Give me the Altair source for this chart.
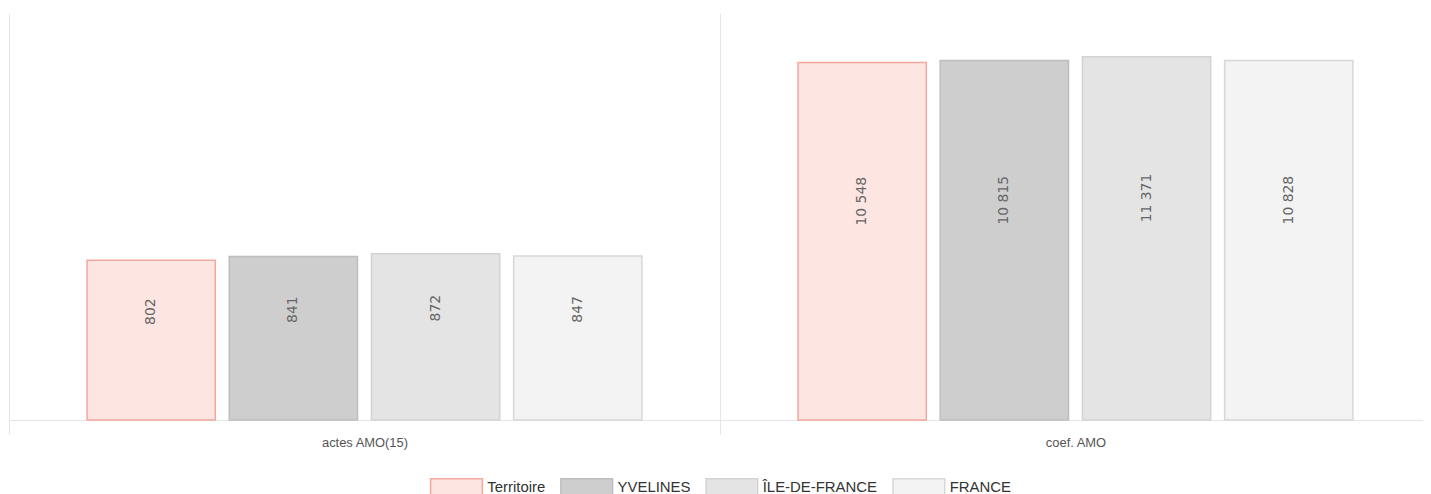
import altair as alt
import pandas as pd

categories = ["actes AMO(15)", "coef. AMO"]
series = ["Territoire", "YVELINES", "ÎLE-DE-FRANCE", "FRANCE"]
actes_amo = [802, 841, 872, 847]
coef_amo = [10548, 10815, 11371, 10828]

fills = ["#fde5e2", "#cecece", "#e4e4e4", "#f3f3f3"]
strokes = ["#f4a79d", "#bdbdbd", "#d3d3d3", "#d7d7d7"]

rows = []
for cat, vals in zip(categories, [actes_amo, coef_amo]):
    for s, v in zip(series, vals):
        rows.append({"cat": cat, "series": s, "value": v})
df = pd.DataFrame(rows)

x_enc = alt.X(
    "cat:N",
    sort=categories,
    scale=alt.Scale(paddingInner=0, paddingOuter=0, range=[0, 1430]),
    axis=alt.Axis(
        title=None,
        labelAngle=0,
        grid=True,
        gridColor="#e6e6e6",
        tickBand="extent",
        ticks=True,
        tickSize=14,
        tickColor="#e6e6e6",
        domainColor="#e6e6e6",
        labelFont="Liberation Sans",
        labelFontSize=13,
        labelColor="#555555",
        labelPadding=3,
    ),
)
xo_enc = alt.XOffset(
    "series:N",
    sort=series,
    scale=alt.Scale(paddingInner=0.098, paddingOuter=0.549),
)
y_scale = alt.Scale(type="log", domain=[100, 20000])

bars = alt.Chart(df).mark_bar(strokeWidth=1.5).encode(
    x=x_enc,
    xOffset=xo_enc,
    y=alt.Y("value:Q", scale=y_scale, axis=None),
    y2=alt.datum(100),
    color=alt.Color(
        "series:N",
        sort=series,
        scale=alt.Scale(domain=series, range=fills),
        legend=alt.Legend(title=None),
    ),
    stroke=alt.Stroke(
        "series:N",
        sort=series,
        scale=alt.Scale(domain=series, range=strokes),
        legend=alt.Legend(title=None),
    ),
)

labels = alt.Chart(df).transform_calculate(
    labelpos="pow(10, 0.5585*log(datum.value)/LN10 + 0.991)",
    label="replace(format(datum.value, ','), ',', ' ')",
).mark_text(
    angle=270, font="DejaVu Sans", fontSize=14, color="#666666",
    align="center", baseline="middle",
).encode(
    x=alt.X("cat:N", sort=categories),
    xOffset=alt.XOffset("series:N", sort=series),
    y=alt.Y("labelpos:Q", scale=y_scale, axis=None),
    text="label:N",
)

chart = alt.layer(bars, labels).properties(
    width=1422,
    height=409,
    padding={"left": 1, "top": 4, "right": 0, "bottom": 73},
    autosize=alt.AutoSizeParams(type="none"),
).configure_view(stroke=None).configure_legend(
    orient="none",
    legendX=423,
    legendY=467,
    direction="horizontal",
    symbolType="M-1,-1L5.5,-1L5.5,1L-1,1Z",
    symbolSize=256,
    symbolStrokeWidth=1.5,
    labelFont="Liberation Sans",
    labelFontSize=15,
    labelColor="#333333",
    labelOffset=40,
    columnPadding=12,
)

chart.save("out.html", embed_options={"renderer": "svg", "actions": False})
